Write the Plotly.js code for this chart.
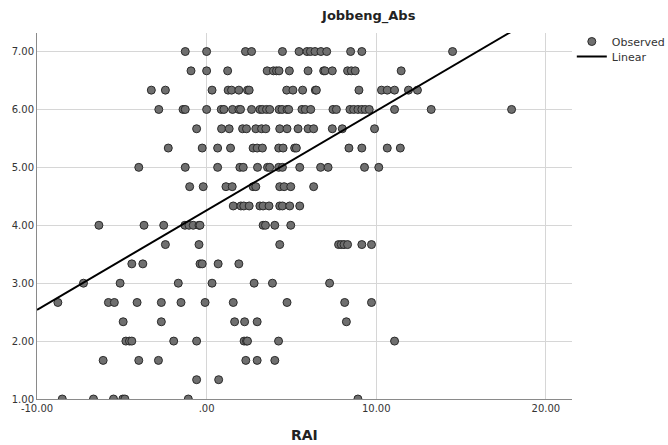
<!DOCTYPE html>
<html>
<head>
<meta charset="utf-8">
<script src="https://cdn.plot.ly/plotly-3.0.1.min.js"></script>
<style>html,body{margin:0;padding:0;background:#fff;}#chart{width:668px;height:445px;}</style>
</head>
<body>
<div id="chart"></div>
<script>
// Jobbeng_Abs levels (multiples of 1/3)
const rowLevels = [7, 20/3, 19/3, 6, 17/3, 16/3, 5, 14/3, 13/3, 4, 11/3, 10/3, 3, 8/3, 7/3, 2, 5/3, 4/3, 1];
// RAI values observed at each level
const rowRAI = [
  [-1.26, 0.0, 2.29, 2.65, 4.47, 5.45, 5.92, 6.12, 6.39, 6.74, 7.08, 8.49, 9.15, 14.5],
  [-0.92, 0.0, 1.24, 3.57, 3.94, 4.12, 4.27, 4.88, 5.98, 6.90, 6.98, 7.41, 8.31, 8.53, 8.76, 11.47],
  [-3.26, -2.43, 0.32, 1.27, 1.47, 1.90, 2.41, 2.51, 4.72, 5.09, 5.66, 6.41, 6.47, 8.98, 10.31, 10.65, 11.08, 11.9, 12.43],
  [-2.82, -1.39, -1.26, 0.0, 0.86, 1.02, 1.53, 1.90, 2.0, 2.65, 3.14, 3.29, 3.53, 3.72, 4.27, 4.45, 4.74, 4.84, 5.62, 5.82, 6.14, 7.45, 7.65, 8.45, 8.67, 8.92, 9.15, 9.35, 9.59, 11.08, 13.24, 17.98],
  [-0.59, 0.88, 1.33, 2.12, 2.35, 2.90, 3.24, 3.49, 4.31, 4.74, 5.39, 5.98, 6.31, 7.41, 8.0, 9.9],
  [-2.26, -0.26, 0.65, 1.41, 2.74, 2.98, 3.29, 4.25, 4.51, 5.19, 5.29, 8.39, 9.15, 10.65, 11.42],
  [-4.0, -1.26, 0.65, 1.96, 2.16, 3.0, 3.59, 3.72, 4.25, 4.47, 5.49, 6.72, 7.16, 9.31, 10.15],
  [-1.0, -0.2, 1.14, 1.51, 2.74, 2.90, 4.31, 4.57, 4.96, 6.31],
  [1.57, 2.02, 2.19, 2.51, 3.14, 3.33, 3.68, 4.31, 4.47, 4.90, 5.49],
  [-6.35, -3.69, -2.53, -1.28, -1.04, -0.79, -0.45, -0.39, 3.33, 3.47, 4.02, 4.96],
  [-2.43, -0.45, 4.31, 7.78, 7.94, 8.10, 8.31, 9.15, 9.72],
  [-4.41, -3.76, -0.39, -0.26, 0.68, 1.90],
  [-7.26, -5.1, -1.67, 0.32, 2.80, 3.88, 7.25],
  [-8.77, -5.79, -5.44, -4.1, -2.67, -1.51, -0.09, 1.57, 4.74, 8.14, 9.72],
  [-4.92, -2.67, 1.65, 2.24, 2.98, 8.24],
  [-4.76, -4.55, -4.41, -1.94, -0.59, 2.21, 2.35, 2.41, 4.24, 11.08],
  [-6.1, -4.0, -2.84, 2.31, 2.98, 4.02],
  [-0.59, 0.71],
  [-8.51, -6.67, -5.49, -4.94, -4.82, -1.08, 8.92]
];
// Linear fit line endpoints
const linearX = [-10, 21.5];
const linearY = [2.54, 7.95];
// Tick labels
const xTickVals = [-10, 0, 10, 20];
const xTickText = ['-10.00', '.00', '10.00', '20.00'];
const yTickVals = [1, 2, 3, 4, 5, 6, 7];
const yTickText = ['1.00', '2.00', '3.00', '4.00', '5.00', '6.00', '7.00'];

const obsX = [], obsY = [];
rowLevels.forEach((lv, i) => { rowRAI[i].forEach(v => { obsX.push(v); obsY.push(lv); }); });

const traces = [
  {x: obsX, y: obsY, type: 'scatter', mode: 'markers', name: 'Observed', legend: 'legend',
   marker: {size: 8, color: '#6f6f6f', line: {color: '#2b2b2b', width: 1}}},
  {x: linearX, y: linearY, type: 'scatter', mode: 'lines', name: 'Linear', legend: 'legend2',
   line: {color: '#000000', width: 2}}
];

const legendBase = {xref: 'container', yref: 'container', x: 0.856, xanchor: 'left', yanchor: 'top',
  font: {family: 'DejaVu Sans, sans-serif', size: 11, color: '#333333'}, bgcolor: 'rgba(0,0,0,0)', itemwidth: 30};

const layout = {
  width: 668, height: 445,
  margin: {l: 37, r: 95, t: 33, b: 46},
  paper_bgcolor: '#ffffff', plot_bgcolor: '#ffffff',
  font: {family: 'DejaVu Sans, sans-serif', size: 10, color: '#333333'},
  title: {text: '<b>Jobbeng_Abs</b>', x: 0.552, xanchor: 'center', y: 0.966, yanchor: 'middle',
          font: {family: 'DejaVu Sans, sans-serif', size: 13, color: '#222222'}},
  showlegend: true,
  legend: Object.assign({}, legendBase, {y: 0.9393}),
  legend2: Object.assign({}, legendBase, {y: 0.9056}),
  xaxis: {range: [-10, 21.53], tickvals: xTickVals, ticktext: xTickText, showgrid: true,
          gridcolor: '#d6d6d6', gridwidth: 1, zeroline: false, showline: true, linecolor: '#8a8a8a',
          linewidth: 1, ticks: '', tickfont: {size: 10, color: '#333333'}, automargin: false,
          title: {text: '<b>RAI</b>', font: {size: 14, color: '#222222'}, standoff: 17}},
  yaxis: {range: [1, 7.32], tickvals: yTickVals, ticktext: yTickText, showgrid: true,
          gridcolor: '#d6d6d6', gridwidth: 1, zeroline: false, showline: true, linecolor: '#8a8a8a',
          linewidth: 1, ticks: '', tickfont: {size: 10, color: '#333333'}, automargin: false}
};

Plotly.newPlot('chart', traces, layout, {displayModeBar: false, staticPlot: true});
</script>
</body>
</html>
